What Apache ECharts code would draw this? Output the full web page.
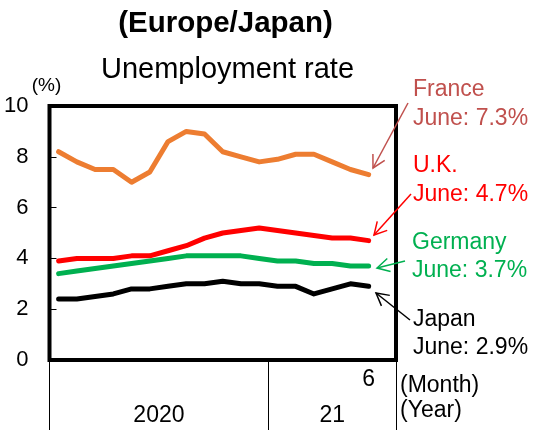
<!DOCTYPE html>
<html>
<head>
<meta charset="utf-8">
<script src="https://cdn.jsdelivr.net/npm/echarts/dist/echarts.min.js"></script>
<style>
    html, body { margin: 0; padding: 0; background: #fff; }
    #chart { width: 551px; height: 430px; }
</style>
</head>
<body>
<div id="chart"></div>
<script>
// months on the axis, Jan 2020 .. Jun 2021 plus one empty slot at the end
var months = ['1', '2', '3', '4', '5', '6', '7', '8', '9', '10', '11', '12',
              '1', '2', '3', '4', '5', '6', '7'];
var years = ['2020', '21'];
var yearStarts = [0, 12, 19];  // month index where each year starts (last = end)

// unemployment rate (%)
var france  = [8.2, 7.8, 7.5, 7.5, 7.0, 7.4, 8.6, 9.0, 8.9, 8.2, 8.0, 7.8, 7.9, 8.1, 8.1, 7.8, 7.5, 7.3];
var uk      = [3.9, 4.0, 4.0, 4.0, 4.1, 4.1, 4.3, 4.5, 4.8, 5.0, 5.1, 5.2, 5.1, 5.0, 4.9, 4.8, 4.8, 4.7];
var germany = [3.4, 3.5, 3.6, 3.7, 3.8, 3.9, 4.0, 4.1, 4.1, 4.1, 4.1, 4.0, 3.9, 3.9, 3.8, 3.8, 3.7, 3.7];
var japan   = [2.4, 2.4, 2.5, 2.6, 2.8, 2.8, 2.9, 3.0, 3.0, 3.1, 3.0, 3.0, 2.9, 2.9, 2.6, 2.8, 3.0, 2.9];

var FONT = '"Liberation Sans", Arial, sans-serif';

// year labels sit in the middle of each year block
var yearMids = [];
for (let i = 0; i < years.length; i++) {
    yearMids.push((yearStarts[i] + yearStarts[i + 1]) / 2);
}

// a straight arrow with an open head, tip at (x2, y2)
function arrow(x1, y1, x2, y2, color) {
    var a = Math.atan2(y1 - y2, x1 - x2);
    var L = 14, h = 0.5;
    return {
        type: 'group',
        children: [
            { type: 'line', shape: { x1: x1, y1: y1, x2: x2, y2: y2 },
              style: { stroke: color, lineWidth: 1.5 } },
            { type: 'polyline',
              shape: { points: [[x2 + L * Math.cos(a + h), y2 + L * Math.sin(a + h)], [x2, y2],
                                [x2 + L * Math.cos(a - h), y2 + L * Math.sin(a - h)]] },
              style: { stroke: color, lineWidth: 1.5, fill: 'none' } }
        ]
    };
}

function label(text, x, y, color, size, weight, align) {
    return {
        type: 'text', x: x, y: y,
        style: { text: text, fill: color, font: (weight || 'normal') + ' ' + size + 'px ' + FONT,
                 textAlign: align || 'left', textVerticalAlign: 'middle' }
    };
}

function line(name, data, color) {
    return {
        name: name, type: 'line', data: data, symbol: 'none',
        lineStyle: { color: color, width: 5, cap: 'round', join: 'round' },
        itemStyle: { color: color }
    };
}

var myChart = echarts.init(document.getElementById('chart'));
var option = {
    animation: false,
    backgroundColor: '#fff',
    grid: {
        left: 49.5, right: 155, top: 106, bottom: 70,
        show: true, borderColor: '#000', borderWidth: 4
    },
    xAxis: [
        {
            type: 'category',
            data: months,
            boundaryGap: true,
            axisLine: { show: false },
            axisTick: { show: false },
            axisLabel: {
                margin: 8, fontSize: 23, color: '#000', fontFamily: FONT,
                interval: 0,
                formatter: function (value, index) {
                    return index === france.length - 1 ? value : '';  // only the latest month
                }
            },
            splitLine: { show: false }
        },
        {
            type: 'value',
            position: 'bottom',
            min: 0, max: months.length,
            axisLine: { show: false },
            axisTick: {
                show: true, inside: false, length: 72,
                customValues: yearStarts,
                lineStyle: { color: '#000', width: 1 }
            },
            axisLabel: {
                margin: 44, fontSize: 23, color: '#000', fontFamily: FONT,
                customValues: yearMids,
                formatter: function (value) {
                    return years[yearMids.indexOf(value)] || '';
                }
            },
            splitLine: { show: false }
        }
    ],
    yAxis: {
        type: 'value',
        min: 0, max: 10, interval: 2,
        name: '(%)',
        nameLocation: 'end',
        nameGap: 8,
        nameTextStyle: { fontSize: 19, color: '#000', fontFamily: FONT, align: 'center', padding: [0, 6, 0, 0] },
        axisLine: { show: false },
        axisTick: { show: true, inside: true, length: 7, lineStyle: { color: '#000', width: 1 } },
        axisLabel: { margin: 21, fontSize: 22, color: '#000', fontFamily: FONT },
        splitLine: { show: false }
    },
    series: [
        line('France', france, '#ED7D31'),
        line('U.K.', uk, '#FF0000'),
        line('Germany', germany, '#00B050'),
        line('Japan', japan, '#000000')
    ],
    graphic: [
        label('(Europe/Japan)', 225.5, 24, '#000', 29.5, 'bold', 'center'),
        label('Unemployment rate', 227.5, 70, '#000', 29, 'normal', 'center'),

        label('France', 413, 90, '#C0504D', 23),
        label('June: 7.3%', 413, 119, '#C0504D', 23),
        label('U.K.', 413, 166, '#FF0000', 23),
        label('June: 4.7%', 413, 195, '#FF0000', 23),
        label('Germany', 412, 243, '#00B050', 23),
        label('June: 3.7%', 412, 271, '#00B050', 23),
        label('Japan', 413, 320, '#000', 23),
        label('June: 2.9%', 413, 348, '#000', 23),

        label('(Month)', 400, 386, '#000', 23),
        label('(Year)', 400, 411, '#000', 23),

        arrow(408, 103, 373, 168, '#C0504D'),
        arrow(411, 194, 374, 235, '#FF0000'),
        arrow(405, 261, 377, 268, '#00B050'),
        arrow(410, 320, 376, 293, '#000')
    ]
};

option && myChart.setOption(option);
</script>
</body>
</html>
